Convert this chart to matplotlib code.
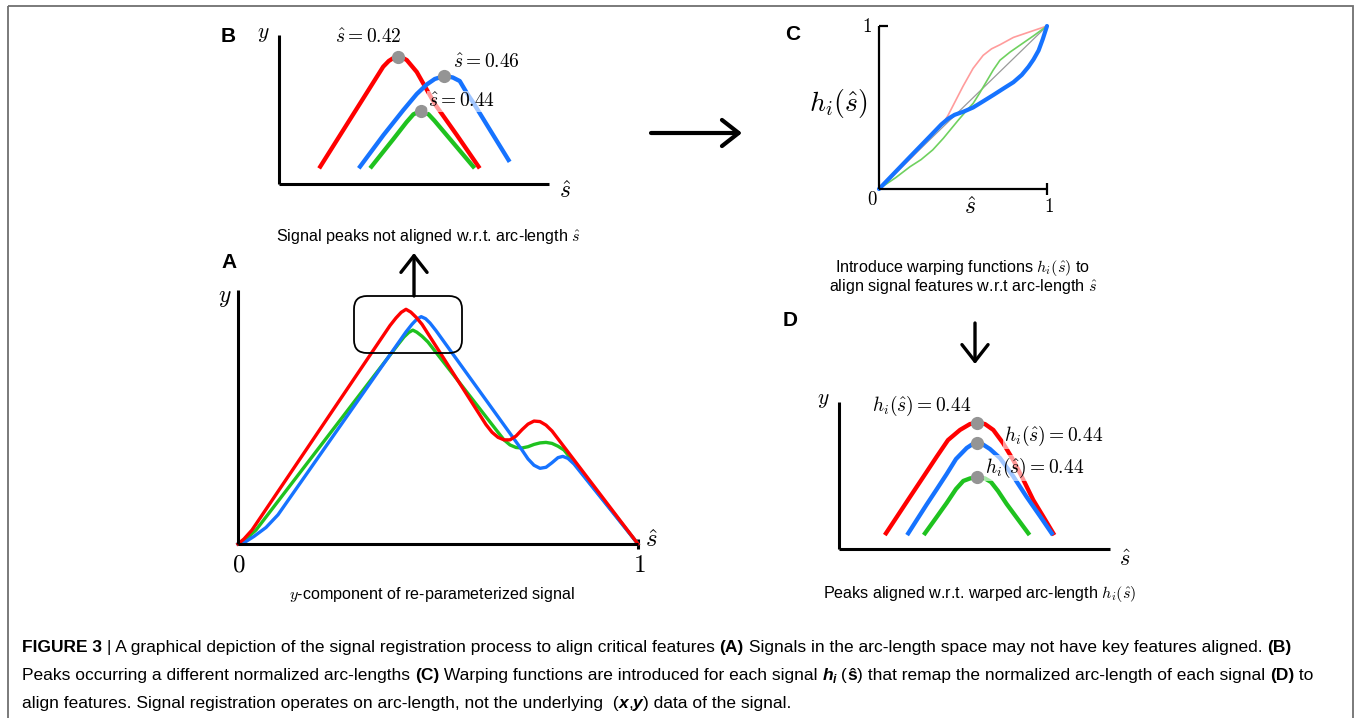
import matplotlib
matplotlib.use('Agg')
import matplotlib.pyplot as plt
from matplotlib import font_manager
from matplotlib.font_manager import FontProperties
from matplotlib.patches import FancyBboxPatch, Rectangle

plt.rcParams['mathtext.fontset'] = 'cm'
plt.rcParams['font.family'] = ['Liberation Sans', 'DejaVu Sans']

W, H = 1356, 718

RED = '#ff0000'
GREEN = '#1fc21f'
BLUE = '#1673ff'
DOT = '#949494'

# --- panel A: y-component against normalised arc-length
a_s_red = [0, 0.015, 0.035, 0.38, 0.395, 0.408, 0.42, 0.432, 0.445, 0.46, 0.62, 0.635, 0.65,
           0.665, 0.68, 0.695, 0.71, 0.725, 0.74, 0.755, 0.77, 0.785, 1.0]
a_y_red = [0, 0.02, 0.055, 0.86, 0.89, 0.912, 0.924, 0.913, 0.893, 0.865, 0.47, 0.44, 0.42,
           0.41, 0.41, 0.425, 0.45, 0.472, 0.484, 0.482, 0.468, 0.445, 0.0]
a_s_green = [0, 0.02, 0.045, 0.40, 0.415, 0.427, 0.437, 0.447, 0.46, 0.475, 0.65, 0.665, 0.68,
             0.695, 0.71, 0.725, 0.74, 0.755, 0.77, 0.785, 0.80, 0.815, 1.0]
a_y_green = [0, 0.02, 0.055, 0.785, 0.815, 0.833, 0.842, 0.834, 0.818, 0.795, 0.44, 0.41, 0.39,
             0.38, 0.378, 0.383, 0.392, 0.398, 0.40, 0.396, 0.385, 0.37, 0.0]
a_s_blue = [0, 0.02, 0.04, 0.07, 0.10, 0.42, 0.435, 0.447, 0.458, 0.469, 0.48, 0.495, 0.71, 0.725,
            0.74, 0.755, 0.77, 0.785, 0.80, 0.812, 0.825, 0.84, 1.0]
a_y_blue = [0, 0.01, 0.03, 0.065, 0.115, 0.835, 0.865, 0.885, 0.895, 0.887, 0.87, 0.84, 0.37, 0.335,
            0.31, 0.298, 0.302, 0.32, 0.34, 0.345, 0.337, 0.315, 0.0]

# --- panel B: peaks before registration
b_s_red = [0.352, 0.4067, 0.4116, 0.4159, 0.42, 0.4229, 0.4272, 0.4359, 0.4518, 0.4707, 0.4896]
b_y_red = [0.117, 0.787, 0.826, 0.847, 0.855, 0.85, 0.832, 0.752, 0.535, 0.329, 0.117]
b_s_blue = [0.3866, 0.407, 0.4243, 0.4359, 0.4446, 0.4516, 0.46, 0.4672, 0.4733, 0.4794, 0.4852,
            0.4968, 0.5157]
b_y_blue = [0.117, 0.329, 0.497, 0.604, 0.668, 0.705, 0.725, 0.715, 0.691, 0.611, 0.544,
            0.398, 0.161]
b_s_green = [0.3965, 0.4154, 0.427, 0.433, 0.44, 0.4461, 0.4513, 0.4617, 0.485]
b_y_green = [0.117, 0.3, 0.415, 0.468, 0.492, 0.468, 0.425, 0.33, 0.117]
b_peak_s = [0.42, 0.46, 0.44]
b_peak_y = [0.855, 0.725, 0.492]
b_labels = [r'$\hat{s} = 0.42$', r'$\hat{s} = 0.46$', r'$\hat{s} = 0.44$']

# --- panel C: warping functions h_i(s)
c_s_diag = [0, 1]
c_h_diag = [0, 1]
c_s_red = [0, 0.2, 0.35, 0.38, 0.41, 0.45, 0.5, 0.56, 0.62, 0.67, 0.72, 0.8, 0.9, 1.0]
c_h_red = [0, 0.2, 0.37, 0.40, 0.45, 0.53, 0.63, 0.74, 0.82, 0.86, 0.885, 0.93, 0.965, 1.0]
c_s_green = [0, 0.1, 0.185, 0.25, 0.32, 0.383, 0.43, 0.47, 0.52, 0.561, 0.6, 0.64, 0.68, 0.72,
             0.78, 0.85, 0.92, 1.0]
c_h_green = [0, 0.07, 0.137, 0.18, 0.24, 0.311, 0.37, 0.42, 0.48, 0.526, 0.59, 0.66, 0.73, 0.79,
             0.84, 0.89, 0.94, 1.0]
c_s_blue = [0, 0.1, 0.185, 0.3, 0.371, 0.41, 0.45, 0.502, 0.56, 0.62, 0.681, 0.74, 0.8, 0.85,
            0.89, 0.92, 0.95, 0.975, 1.0]
c_h_blue = [0, 0.107, 0.198, 0.32, 0.396, 0.43, 0.455, 0.474, 0.5, 0.538, 0.577, 0.616, 0.655,
            0.7, 0.75, 0.795, 0.85, 0.92, 1.0]

# --- panel D: peaks after warping
d_s_red = [0.1493, 0.1842, 0.2255, 0.2668, 0.3104, 0.3463, 0.3844, 0.4161, 0.44, 0.4638, 0.4902,
           0.521, 0.5537, 0.5845, 0.6172, 0.648, 0.6807]
d_y_red = [0.107, 0.22, 0.354, 0.487, 0.628, 0.741, 0.81, 0.85, 0.859, 0.85, 0.81,
           0.721, 0.605, 0.476, 0.333, 0.224, 0.107]
d_s_blue = [0.2201, 0.2478, 0.2786, 0.3104, 0.3421, 0.3717, 0.4057, 0.4225, 0.44, 0.4574, 0.4797,
            0.5114, 0.5527, 0.5963, 0.6385, 0.6757]
d_y_blue = [0.107, 0.2, 0.303, 0.406, 0.51, 0.612, 0.687, 0.711, 0.719, 0.711, 0.68,
            0.619, 0.497, 0.354, 0.224, 0.107]
d_s_green = [0.2732, 0.3081, 0.3421, 0.3717, 0.3949, 0.4161, 0.44, 0.4638, 0.4828, 0.5051, 0.5327,
             0.5654, 0.6013]
d_y_green = [0.107, 0.211, 0.313, 0.408, 0.463, 0.48, 0.488, 0.48, 0.456, 0.395, 0.306,
             0.211, 0.107]
d_peak_s = [0.44, 0.44, 0.44]
d_peak_y = [0.859, 0.719, 0.488]
d_labels = [r'$h_i(\hat{s}) = 0.44$'] * 3


fig = plt.figure(figsize=(W / 100, H / 100), dpi=100)

# full-figure overlay in pixel units for frame, arrows and text
ov = fig.add_axes([0, 0, 1, 1], zorder=10)
ov.set_xlim(0, W)
ov.set_ylim(H, 0)
ov.axis('off')
ov.patch.set_visible(False)


def panel(left, top, right, bottom, lw):
    ax = fig.add_axes([left / W, 1 - bottom / H, (right - left) / W, (bottom - top) / H])
    ax.patch.set_visible(False)
    for side in ('top', 'right'):
        ax.spines[side].set_visible(False)
    for side in ('left', 'bottom'):
        ax.spines[side].set_linewidth(lw)
        ax.spines[side].set_capstyle('butt')
    ax.set_xticks([])
    ax.set_yticks([])
    return ax


def peaks(ax, xs, ys, labels, offsets):
    ax.plot(xs, ys, 'o', color=DOT, ms=9.5, mec='none', zorder=5, clip_on=False)
    for x, y, lab, (dx, dy) in zip(xs, ys, labels, offsets):
        ax.annotate(lab, (x, y), xytext=(dx, dy), textcoords='offset pixels',
                    ha='center', va='center', fontsize=14, zorder=6,
                    bbox=dict(boxstyle='square,pad=0.05', fc='white', ec='none', alpha=0.6))


def curve(ax, s, y, color, lw):
    ax.plot(s, y, color=color, lw=lw, solid_joinstyle='round', clip_on=False)


# A
axA = panel(238, 290, 638, 544, 2.2)
axA.set_xlim(0, 1)
axA.set_ylim(0, 1)
curve(axA, a_s_green, a_y_green, GREEN, 2.4)
curve(axA, a_s_blue, a_y_blue, BLUE, 2.4)
curve(axA, a_s_red, a_y_red, RED, 2.4)
axA.set_xticks([1])
axA.tick_params(axis='x', direction='inout', length=7, width=2.2, labelbottom=False)

# B
axB = panel(279, 35, 549, 184, 2.2)
axB.set_xlim(0.3161, 0.5509)
axB.set_ylim(0, 1)
curve(axB, b_s_red, b_y_red, RED, 3.1)
curve(axB, b_s_green, b_y_green, GREEN, 3.1)
curve(axB, b_s_blue, b_y_blue, BLUE, 3.1)
peaks(axB, b_peak_s, b_peak_y, b_labels, [(-30, 19), (42, 13), (40, 9)])

# C
axC = panel(879, 26, 1047, 189, 1.6)
axC.set_xlim(0, 1)
axC.set_ylim(0, 1)
axC.plot(c_s_diag, c_h_diag, color='#9a9a9a', lw=0.9)
axC.plot(c_s_red, c_h_red, color='#ff9c9c', lw=1.2, clip_on=False)
axC.plot(c_s_green, c_h_green, color='#6fd15f', lw=1.2, clip_on=False)
axC.plot(c_s_blue, c_h_blue, color=BLUE, lw=3.0, solid_capstyle='round', clip_on=False)
axC.set_xticks([1])
axC.set_yticks([1])
axC.tick_params(axis='x', direction='inout', length=8, width=1.6, labelbottom=False)
axC.tick_params(axis='y', direction='in', length=6.5, width=1.6, labelleft=False)

# D
axD = panel(839, 402, 1110, 549, 2.2)
axD.set_xlim(0, 0.861)
axD.set_ylim(0, 1)
curve(axD, d_s_green, d_y_green, GREEN, 3.1)
curve(axD, d_s_red, d_y_red, RED, 3.1)
curve(axD, d_s_blue, d_y_blue, BLUE, 3.1)
peaks(axD, d_peak_s, d_peak_y, d_labels, [(-56, 17), (76, 7), (57, 9)])

# outer frame
ov.add_patch(Rectangle((8, 6), 1345, 800, fill=False, ec='#707070', lw=1.3, clip_on=False))

# panel letters
for lab, x, y in [('A', 229, 263), ('B', 228, 37), ('C', 793, 35), ('D', 790, 320)]:
    ov.text(x, y, lab, fontsize=15, fontweight='bold', ha='center', va='center')

# axis symbols and tick numbers
math = dict(ha='center', va='center')
ov.text(225, 298, '$y$', fontsize=17, **math)
ov.text(651, 540, r'$\hat{s}$', fontsize=18, **math)
ov.text(239, 565, '$0$', fontsize=18, **math)
ov.text(639, 565, '$1$', fontsize=18, **math)
ov.text(263, 34, '$y$', fontsize=15.5, **math)
ov.text(565, 192, r'$\hat{s}$', fontsize=17, **math)
ov.text(867, 27, '$1$', fontsize=13.5, **math)
ov.text(872, 200, '$0$', fontsize=13.5, **math)
ov.text(1049, 207, '$1$', fontsize=13.5, **math)
ov.text(970, 208, r'$\hat{s}$', fontsize=17, **math)
ov.text(838, 103, r'$h_i(\hat{s})$', fontsize=20, **math)
ov.text(823, 400, '$y$', fontsize=15.5, **math)
ov.text(1125, 560, r'$\hat{s}$', fontsize=16, **math)

# panel captions
sub = dict(ha='center', va='center', fontsize=11.6)
ov.text(429, 237, r'Signal peaks not aligned w.r.t. arc-length $\hat{s}$', **sub)
ov.text(432, 595, r'$y$-component of re-parameterized signal', **sub)
ov.text(963, 268, r'Introduce warping functions $h_i(\hat{s})$ to', **sub)
ov.text(963, 286, r'align signal features w.r.t arc-length $\hat{s}$', **sub)
ov.text(980, 594, r'Peaks aligned w.r.t. warped arc-length $h_i(\hat{s})$', **sub)

# zoom box and process arrows
ov.add_patch(FancyBboxPatch((354, 296), 108, 57, boxstyle='round,pad=0,rounding_size=13',
                            fill=False, ec='black', lw=1.3))
arrow = dict(arrowstyle='->,head_length=0.6,head_width=0.47', color='black',
             shrinkA=0, shrinkB=0, mutation_scale=20)
ov.annotate('', xy=(742, 133), xytext=(651, 133), arrowprops=dict(lw=3.0, **arrow))
ov.annotate('', xy=(414, 253), xytext=(414, 296), arrowprops=dict(lw=2.4, **arrow))
ov.annotate('', xy=(975, 364), xytext=(975, 323), arrowprops=dict(lw=2.4, **arrow))

# figure caption with mixed weights
names = {f.name for f in font_manager.fontManager.ttflist}
cap_family = 'Liberation Sans Narrow' if 'Liberation Sans Narrow' in names else 'Liberation Sans'
cap_size = 12.5
renderer = fig.canvas.get_renderer()


def runs(x, y, parts):
    for part in parts:
        txt, weight, style = part[:3]
        scale = part[3] if len(part) > 3 else 1.0
        dy = part[4] if len(part) > 4 else 0
        fp = FontProperties(family=cap_family, weight=weight, style=style, size=cap_size * scale)
        ov.text(x, y + dy, txt, fontproperties=fp, ha='left', va='baseline')
        full = renderer.get_text_width_height_descent('|' + txt + '|', fp, ismath=False)[0]
        bars = renderer.get_text_width_height_descent('||', fp, ismath=False)[0]
        x += full - bars


N, B, BI = ('normal', 'normal'), ('bold', 'normal'), ('bold', 'italic')
runs(22, 652, [('FIGURE 3 ', *B),
               ('| A graphical depiction of the signal registration process to align critical features ', *N),
               ('(A)', *B),
               (' Signals in the arc-length space may not have key features aligned. ', *N),
               ('(B)', *B)])
runs(22, 680, [('Peaks occurring a different normalized arc-lengths ', *N),
               ('(C)', *B),
               (' Warping functions are introduced for each signal ', *N),
               ('h', *BI), ('i', *BI, 0.7, 3),
               (' (', *N), ('ŝ', *B), (')', *N),
               (' that remap the normalized arc-length of each signal ', *N),
               ('(D)', *B),
               (' to', *N)])
runs(22, 708, [('align features. Signal registration operates on arc-length, not the underlying  (', *N),
               ('x', *BI), (',', *N), ('y', *BI),
               (') data of the signal.', *N)])

fig.savefig('out.png', dpi=100)
